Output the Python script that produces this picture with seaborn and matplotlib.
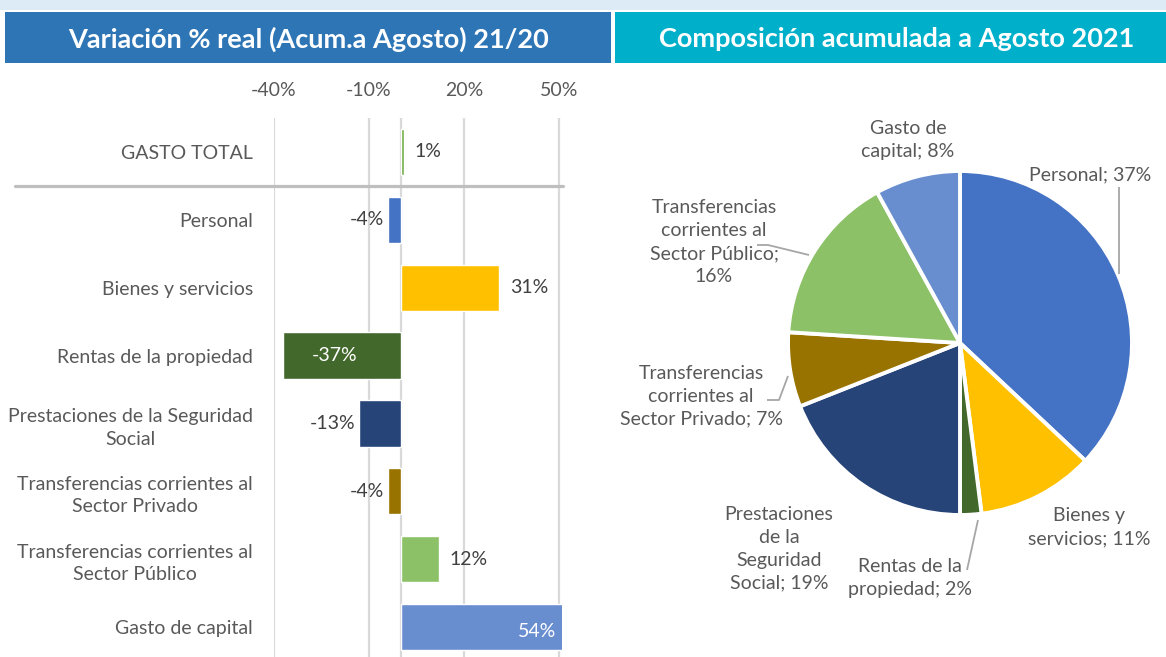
import matplotlib
matplotlib.use("Agg")
import matplotlib.pyplot as plt
import matplotlib.transforms as mtransforms
from matplotlib.patches import Rectangle
from matplotlib.lines import Line2D
import seaborn as sns
import pandas as pd

# ---------------- data ----------------
bar_categories = ["GASTO TOTAL", "Personal", "Bienes y servicios", "Rentas de la propiedad",
                  "Prestaciones de la Seguridad Social",
                  "Transferencias corrientes al Sector Privado",
                  "Transferencias corrientes al Sector Público", "Gasto de capital"]
bar_tick_labels = ["GASTO TOTAL", "Personal", "Bienes y servicios", "Rentas de la propiedad",
                   "Prestaciones de la Seguridad\nSocial",
                   "Transferencias corrientes al\nSector Privado",
                   "Transferencias corrientes al\nSector Público", "Gasto de capital"]
bar_values = [1, -4, 31, -37, -13, -4, 12, 54]
x_ticks = [-40, -10, 20, 50]

pie_categories = ["Personal", "Bienes y servicios", "Rentas de la propiedad",
                  "Prestaciones de la Seguridad Social",
                  "Transferencias corrientes al Sector Privado",
                  "Transferencias corrientes al Sector Público", "Gasto de capital"]
pie_label_names = ["Personal", "Bienes y\nservicios", "Rentas de la\npropiedad",
                   "Prestaciones\nde la\nSeguridad\nSocial",
                   "Transferencias\ncorrientes al\nSector Privado",
                   "Transferencias\ncorrientes al\nSector Público;\n", "Gasto de\ncapital"]
pie_values = [37, 11, 2, 19, 7, 16, 8]

title_left = "Variación % real (Acum.a Agosto) 21/20"
title_right = "Composición acumulada a Agosto 2021"

# ---------------- style ----------------
colors = {
    "GASTO TOTAL": "#70AD47",
    "Personal": "#4472C4",
    "Bienes y servicios": "#FFC000",
    "Rentas de la propiedad": "#43682B",
    "Prestaciones de la Seguridad Social": "#264478",
    "Transferencias corrientes al Sector Privado": "#997300",
    "Transferencias corrientes al Sector Público": "#8CC168",
    "Gasto de capital": "#698ED0",
}
sns.set_theme(style="white")
plt.rcParams["font.family"] = ["Lato", "DejaVu Sans"]
TXT = "#595959"
VAL = "#404040"
FS = 14

W, H = 1166, 657
fig = plt.figure(figsize=(W / 100, H / 100), dpi=100)
fig.patch.set_facecolor("white")

def fx(px):
    return px / W

def fy(py):
    return 1 - py / H

# header bands
fig.patches.append(Rectangle((0, fy(10)), 1, 10 / H, transform=fig.transFigure,
                             facecolor="#DDEBF7", edgecolor="none", zorder=0))
fig.patches.append(Rectangle((fx(5), fy(63)), fx(611 - 5), 51 / H, transform=fig.transFigure,
                             facecolor="#2E75B6", edgecolor="none", zorder=0))
fig.patches.append(Rectangle((fx(615), fy(63)), fx(W - 615), 51 / H, transform=fig.transFigure,
                             facecolor="#00B0CA", edgecolor="none", zorder=0))
fig.text(fx(309), fy(39), title_left, color="white", fontsize=19.5, fontweight="bold",
         ha="center", va="center")
fig.text(fx(897), fy(39), title_right, color="white", fontsize=19.5, fontweight="bold",
         ha="center", va="center")

# ---------------- bar chart ----------------
ax = fig.add_axes([fx(274), fy(661), fx(562 - 274), (661 - 118) / H])
df = pd.DataFrame({"cat": bar_categories, "val": bar_values})
sns.barplot(data=df, x="val", y="cat", hue="cat", palette=colors, orient="h",
            width=0.68, saturation=1, legend=False, dodge=False, ax=ax, zorder=3)
ax.set_xlim(-40, 51)
ax.set_ylim(7.5, -0.5)
ax.set_xticks(x_ticks)
ax.set_xticklabels([f"{t}%" for t in x_ticks])
ax.xaxis.tick_top()
ax.tick_params(axis="x", length=0, pad=14, labelsize=FS, labelcolor=TXT)
ax.set_yticks(range(len(bar_categories)))
ax.set_yticklabels(bar_tick_labels)
ax.tick_params(axis="y", length=0, pad=15, labelsize=FS, labelcolor=TXT)
for lbl in ax.get_yticklabels():
    lbl.set_multialignment("center")
    lbl.set_linespacing(1.4)
ax.set_xlabel("")
ax.set_ylabel("")
for s in ax.spines.values():
    s.set_visible(False)
ax.grid(axis="x", color="#D9D9D9", linewidth=1.6, zorder=0)
ax.axvline(0, color="#D9D9D9", linewidth=1.6, zorder=1)

xmax = ax.get_xlim()[1]
for i, v in enumerate(bar_values):
    txt = f"{v}%"
    if v > xmax:
        ax.annotate(txt, xy=(1, i), xycoords=("axes fraction", "data"), xytext=(-4, -3),
                    textcoords="offset points", ha="right", va="center", color="white",
                    fontsize=FS, zorder=5)
    elif v <= -30:
        ax.annotate(txt, xy=(v, i), xytext=(20, 0), textcoords="offset points",
                    ha="left", va="center", color="white", fontsize=FS, zorder=5)
    elif v >= 0:
        ax.annotate(txt, xy=(v, i), xytext=(8, 0), textcoords="offset points",
                    ha="left", va="center", color=VAL, fontsize=FS, zorder=5)
    else:
        ax.annotate(txt, xy=(v, i), xytext=(-3, 0), textcoords="offset points",
                    ha="right", va="center", color=VAL, fontsize=FS, zorder=5)

# separator under GASTO TOTAL
trans = mtransforms.blended_transform_factory(fig.transFigure, ax.transData)
fig.lines.append(Line2D([fx(15), fx(563)], [0.5, 0.5], transform=trans,
                        color="#BFBFBF", linewidth=2.3, zorder=4))

# ---------------- pie chart ----------------
R = 172.0
cx, cy = 960, 343
ax2 = fig.add_axes([fx(615), 0, fx(W - 615), 587 / H])
ax2.pie(pie_values, colors=[colors[c] for c in pie_categories], startangle=90,
        counterclock=False, radius=1,
        wedgeprops=dict(edgecolor="white", linewidth=2.8))
ax2.set_xlim(-(cx - 615) / R, (W - cx) / R)
ax2.set_ylim(-(H - cy) / R, (587 - (H - cy)) / R)
ax2.set_aspect("equal", adjustable="box")
ax2.axis("off")

def u(px, py):
    return ((px - cx) / R, (cy - py) / R)

label_pos = [u(1090, 175), u(1089, 527), u(910, 578), u(779, 549),
             u(701, 396), u(714, 242), u(908, 140)]
for name, v, pos in zip(pie_label_names, pie_values, label_pos):
    if name.endswith("\n"):
        text = f"{name}{v}%"
    else:
        text = f"{name}; {v}%"
    ax2.text(pos[0], pos[1], text, ha="center", va="center", fontsize=FS,
             color=TXT, linespacing=1.42)

leaders = [
    [u(1119, 187), u(1119, 274)],
    [u(967, 570), u(978, 520)],
    [u(767, 400), u(779, 400), u(788, 376)],
    [u(757, 245), u(768, 245), u(809, 255)],
]
for pts in leaders:
    xs, ys = zip(*pts)
    ax2.plot(xs, ys, color="#A6A6A6", linewidth=1.3, solid_capstyle="butt")

fig.savefig("out.png", dpi=100, facecolor="white")
